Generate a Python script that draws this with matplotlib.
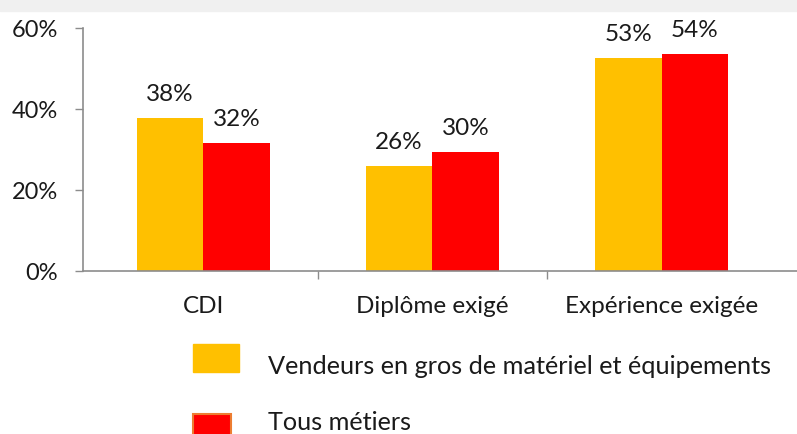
import numpy as np
import matplotlib
matplotlib.use("Agg")
import matplotlib.pyplot as plt
from matplotlib.patches import Rectangle

# ===== DONNÉES =====
categories = ["CDI", "Diplôme exigé", "Expérience exigée"]
vendeurs = [37.7, 25.9, 52.5]
tous = [31.7, 29.4, 53.6]
labels_vendeurs = ["38%", "26%", "53%"]
labels_tous = ["32%", "30%", "54%"]
serie_noms = ["Vendeurs en gros de matériel et équipements", "Tous métiers"]

C_OR = "#FFC000"; C_RG = "#FF0000"; C_AX = "#8C8C8C"
plt.rcParams["font.family"] = ["Lato", "DejaVu Sans"]

fig = plt.figure(figsize=(7.97, 4.35), dpi=100)
# bandeau gris en haut
fig.patches.append(Rectangle((0, 1 - 12/435), 1, 12/435, transform=fig.transFigure,
                             color="#F0F0F0", zorder=0))
ax = fig.add_axes([83/797, 1 - 272/435, 1 - 83/797, (272 - 29)/435])

x = np.arange(len(categories))
w = 0.29
b1 = ax.bar(x - w/2, vendeurs, w, color=C_OR)
b2 = ax.bar(x + w/2, tous, w, color=C_RG)
for bars, labs in ((b1, labels_vendeurs), (b2, labels_tous)):
    for b, lab in zip(bars, labs):
        ax.annotate(lab, (b.get_x() + b.get_width()/2, b.get_height()),
                    xytext=(0, 10), textcoords="offset points",
                    ha="center", va="bottom", fontsize=17.5, color="#1a1a1a")

ax.set_xlim(-0.524, 2.59)
ax.set_ylim(0, 60)
ax.set_yticks([0, 20, 40, 60])
ax.set_yticklabels(["0%", "20%", "40%", "60%"])
ax.tick_params(axis="y", length=6, width=1, color=C_AX, pad=12, labelsize=17,
               labelcolor="#1a1a1a")
ax.set_xticks([0.5, 1.5])
ax.set_xticklabels([])
ax.set_xticks(x, minor=True)
ax.set_xticklabels(categories, minor=True)
ax.tick_params(axis="x", which="major", length=6, width=1, color=C_AX)
ax.tick_params(axis="x", which="minor", length=0, pad=17, labelsize=17.5,
               labelcolor="#1a1a1a")
for s in ("top", "right"):
    ax.spines[s].set_visible(False)
for s in ("left", "bottom"):
    ax.spines[s].set_color(C_AX)
    ax.spines[s].set_linewidth(1.2)

# légende manuelle
fig.patches.append(Rectangle((193/797, 1 - 373/435), 46/797, 28/435,
                             transform=fig.transFigure, color=C_OR))
fig.patches.append(Rectangle((193/797, 1 - 445/435), 38/797, 30/435,
                             transform=fig.transFigure, facecolor=C_RG,
                             edgecolor="#ED7D31", linewidth=1.5))
fig.text(268/797, 1 - 367/435, serie_noms[0], fontsize=18.2, va="center",
         ha="left", color="#1a1a1a")
fig.text(268/797, 1 - 423/435, serie_noms[1], fontsize=18.2, va="center",
         ha="left", color="#1a1a1a")

fig.savefig("out.png", dpi=100)
